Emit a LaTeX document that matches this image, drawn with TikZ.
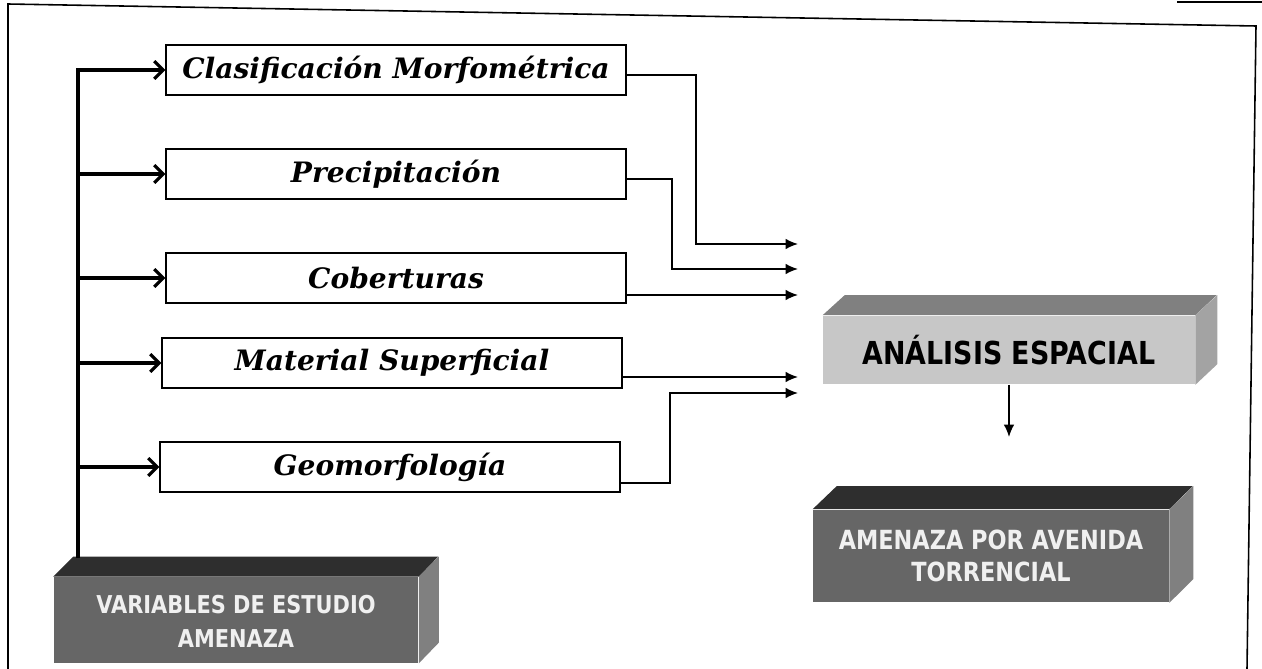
\documentclass[tikz,border=0pt]{standalone}
\usepackage{fontspec}
\setmainfont{DejaVu Serif}
\newfontfamily\capsfont{DejaVu Sans}[FakeStretch=0.85]
\usetikzlibrary{arrows.meta}

\definecolor{lightface}{gray}{0.78}
\definecolor{lighttop}{gray}{0.50}
\definecolor{lightside}{gray}{0.64}
\definecolor{darkface}{gray}{0.40}
\definecolor{darktop}{gray}{0.18}
\definecolor{darkside}{gray}{0.50}

\tikzset{
  varbox/.style={draw,line width=0.9pt,minimum width=9.2cm,minimum height=1cm,
    font=\fontsize{16}{19}\selectfont\bfseries\itshape},
  slab/.style={inner sep=0pt,align=center},
  feed/.style={line width=2.2pt,-{Straight Barb[length=5pt,width=10pt,line width=1.8pt]}},
  link/.style={line width=0.9pt,-{Latex[length=7pt,width=6pt]}},
}

\begin{document}
\begin{tikzpicture}[x=0.02cm,y=-0.02cm]
\useasboundingbox (0,0) rectangle (1262,669);
% marco
\draw[line width=0.9pt] (8,669) -- (8,4) -- (1256,26) -- (1247,669);
\draw[line width=0.6pt] (1177,2) -- (1262,2);

% variables
\node[varbox] (clas) at (396,70) {Clasificación Morfométrica};
\node[varbox] (prec) at (396,174) {Precipitación};
\node[varbox] (cob) at (396,278) {Coberturas};
\node[varbox] (mat) at (392,363) {Material Superficial};
\node[varbox] (geo) at (390,467) {Geomorfología};

% bloques
\node[slab,fill=darkface,text=gray!12,minimum width=7.3cm,minimum height=1.72cm,
  font=\capsfont\bfseries\fontsize{14}{17}\selectfont] (var) at (236,620)
  {\rule{0pt}{12pt}VARIABLES DE ESTUDIO\\[2pt]AMENAZA};
\fill[darktop] (var.north west) -- ++(20,-20) -- ++(365,0) -- (var.north east) -- cycle;
\fill[darkside] (var.north east) -- ++(20,-20) -- ++(0,86) -- (var.south east) -- cycle;

\node[slab,fill=lightface,minimum width=7.44cm,minimum height=1.38cm,
  font=\capsfont\bfseries\fontsize{18}{21}\selectfont] (ana) at (1009,350)
  {ANÁLISIS ESPACIAL};
\fill[lighttop] (ana.north west) -- ++(22,-20) -- ++(372,0) -- (ana.north east) -- cycle;
\fill[lightside] (ana.north east) -- ++(22,-20) -- ++(0,69) -- (ana.south east) -- cycle;

\node[slab,fill=darkface,text=gray!12,minimum width=7.12cm,minimum height=1.86cm,
  font=\capsfont\bfseries\fontsize{15}{17}\selectfont] (amen) at (991,556)
  {\rule{0pt}{10pt}AMENAZA POR AVENIDA\\[1pt]TORRENCIAL};
\fill[darktop] (amen.north west) -- ++(24,-23) -- ++(356,0) -- (amen.north east) -- cycle;
\fill[darkside] (amen.north east) -- ++(24,-23) -- ++(0,93) -- (amen.south east) -- cycle;

% entradas
\coordinate (trunk) at (78,558);
\draw[feed] (trunk) |- (clas.west);
\foreach \v in {prec,cob,mat,geo}
  \draw[feed] (trunk |- \v.west) -- (\v.west);

% salidas
\coordinate (in1) at (798,244);
\coordinate (in2) at (798,269);
\coordinate (in3) at (798,295);
\coordinate (in4) at (798,377);
\coordinate (in5) at (798,393);
\draw[link] (clas.east) ++(0,5) -- ++(69,0) |- (in1);
\draw[link] (prec.east) ++(0,5) -- ++(45,0) |- (in2);
\draw[link] (cob.east) ++(0,17) -- (in3);
\draw[link] (mat.east) ++(0,14) -- (in4);
\draw[link] (geo.east) ++(0,16) -- ++(49,0) |- (in5);

\coordinate (out) at (1009,437);
\draw[link] (ana.south) -- (out);
\end{tikzpicture}
\end{document}
